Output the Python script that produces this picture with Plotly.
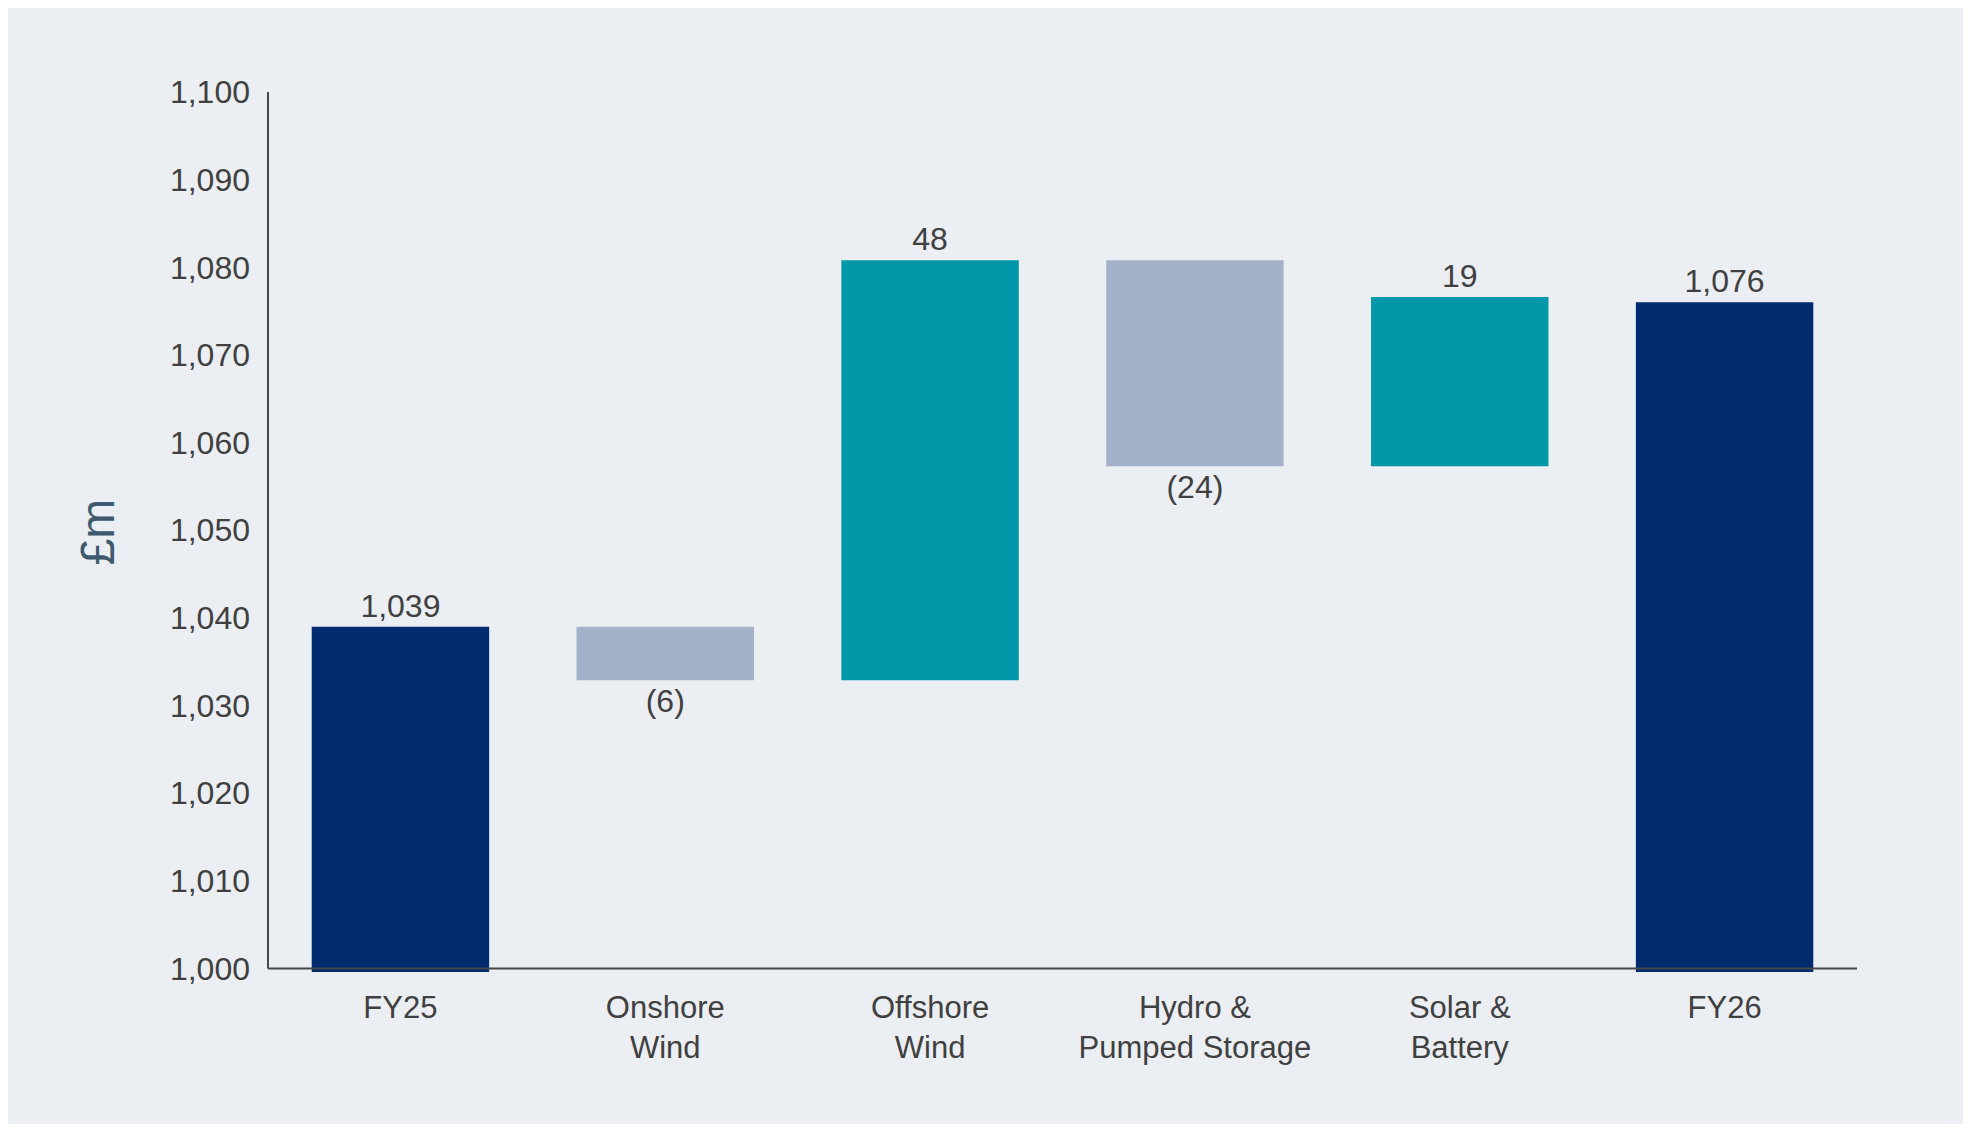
import plotly.graph_objects as go

# categories and values (£m)
categories = ["FY25", "Onshore<br>Wind", "Offshore<br>Wind", "Hydro &<br>Pumped Storage",
              "Solar &<br>Battery", "FY26"]
bar_base = [999.6, 1039.0, 1032.9, 1080.8, 1057.3, 999.6]
bar_delta = [39.4, -6.1, 47.9, -23.5, 19.3, 76.4]
labels = ["1,039", "(6)", "48", "(24)", "19", "1,076"]
kinds = ["total", "down", "up", "down", "up", "total"]

colors = {"total": "#002C6F", "up": "#0097A8", "down": "#A3B2C9"}
ink = "#404040"
bg = "#EBEEF3"
fsize = 32

fig = go.Figure(go.Bar(
    x=categories,
    y=bar_delta,
    base=bar_base,
    marker=dict(color=[colors[k] for k in kinds], line=dict(width=0)),
    text=labels,
    textposition="outside",
    textfont=dict(size=fsize, color=ink, family="Liberation Sans, Arial, sans-serif"),
    constraintext="none",
    cliponaxis=False,
    hoverinfo="skip",
))

# axis lines drawn as shapes so the bars can sit a touch below the baseline
fig.add_shape(type="line", xref="paper", yref="y", x0=0, x1=1, y0=1000, y1=1000,
              line=dict(color="#474747", width=2), layer="above")
fig.add_shape(type="line", xref="paper", yref="y", x0=0, x1=0, y0=1000, y1=1100,
              line=dict(color="#474747", width=2), layer="above")

fig.update_layout(
    width=1955, height=1116,
    margin=dict(l=260, r=106, t=84, b=152),
    paper_bgcolor=bg, plot_bgcolor=bg,
    bargap=0.33,
    showlegend=False,
    font=dict(family="Liberation Sans, Arial, sans-serif", size=fsize, color=ink),
    xaxis=dict(showgrid=False, showline=False, ticks="", ticklabelstandoff=14,
               tickfont=dict(size=31, color=ink)),
    yaxis=dict(
        range=[999.6, 1100], tickvals=list(range(1000, 1101, 10)),
        tickformat=",d", showgrid=False, zeroline=False, showline=False,
        ticks="", ticklabelstandoff=17, tickfont=dict(size=fsize, color=ink),
        title=dict(text="£m", font=dict(size=48, color="#3E5A6E"), standoff=40),
    ),
)

fig.write_html("out.html")
